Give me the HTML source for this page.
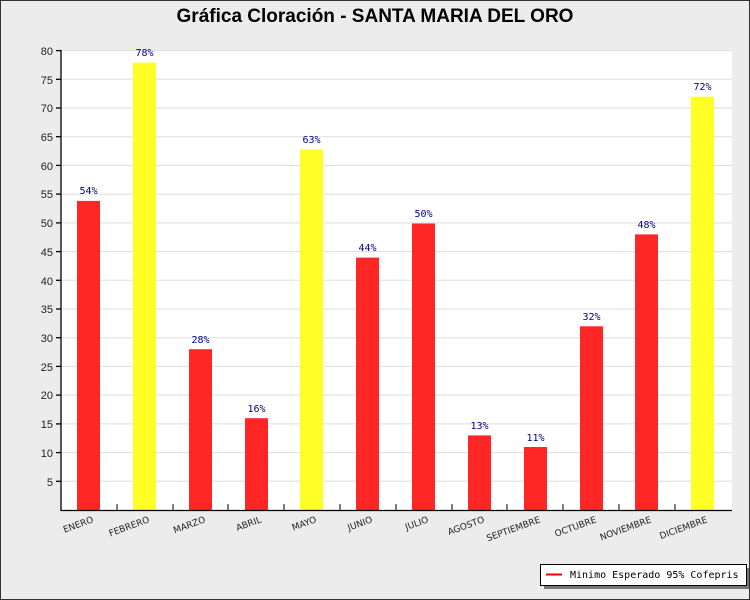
<!DOCTYPE html>
<html><head><meta charset="utf-8"><style>
body{margin:0;width:750px;height:600px;overflow:hidden;background:#ececec}
svg{display:block}
</style></head><body>
<svg width="750" height="600" xmlns="http://www.w3.org/2000/svg" font-family="Liberation Sans, DejaVu Sans, sans-serif">
<rect x="0.5" y="0.5" width="749" height="599" fill="#ececec" stroke="#333"/>
<text x="375" y="22" text-anchor="middle" font-size="19" font-weight="bold" fill="#000">Gráfica Cloración - SANTA MARIA DEL ORO</text>
<rect x="61" y="50" width="671" height="460" fill="#fff"/>
<g stroke="#ddd" stroke-width="1">
<line x1="61" x2="732" y1="481.3" y2="481.3"/><line x1="61" x2="732" y1="452.6" y2="452.6"/><line x1="61" x2="732" y1="423.9" y2="423.9"/><line x1="61" x2="732" y1="395.1" y2="395.1"/><line x1="61" x2="732" y1="366.4" y2="366.4"/><line x1="61" x2="732" y1="337.7" y2="337.7"/><line x1="61" x2="732" y1="309" y2="309"/><line x1="61" x2="732" y1="280.3" y2="280.3"/><line x1="61" x2="732" y1="251.6" y2="251.6"/><line x1="61" x2="732" y1="222.9" y2="222.9"/><line x1="61" x2="732" y1="194.1" y2="194.1"/><line x1="61" x2="732" y1="165.4" y2="165.4"/><line x1="61" x2="732" y1="136.7" y2="136.7"/><line x1="61" x2="732" y1="108" y2="108"/><line x1="61" x2="732" y1="79.3" y2="79.3"/><line x1="61" x2="732" y1="50.6" y2="50.6"/>
</g>
<g fill="#ff2626">
<rect x="77" y="200.9" width="23" height="309.1"/>
<rect x="189" y="349.2" width="23" height="160.8"/>
<rect x="245" y="418.2" width="23" height="91.8"/>
<rect x="356" y="257.6" width="23" height="252.4"/>
<rect x="412" y="223.5" width="23" height="286.5"/>
<rect x="468" y="435.4" width="23" height="74.6"/>
<rect x="524" y="447" width="23" height="63"/>
<rect x="580" y="326.3" width="23" height="183.7"/>
<rect x="635" y="234.4" width="23" height="275.6"/>
</g>
<g fill="#ffff26">
<rect x="133" y="62.6" width="23" height="447.4"/>
<rect x="300" y="149.4" width="23" height="360.6"/>
<rect x="691" y="96.7" width="23" height="413.3"/>
</g>
<g font-family="DejaVu Sans Mono, Liberation Mono, monospace" font-size="10" fill="#00008b" text-anchor="middle">
<text x="88.5" y="194">54%</text><text x="144.5" y="56">78%</text><text x="200.5" y="343">28%</text><text x="256.5" y="412">16%</text><text x="311.5" y="143">63%</text><text x="367.5" y="251">44%</text><text x="423.5" y="217">50%</text><text x="479.5" y="429">13%</text><text x="535.5" y="441">11%</text><text x="591.5" y="320">32%</text><text x="646.5" y="228">48%</text><text x="702.5" y="90">72%</text>
</g>
<g stroke="#000" stroke-width="1.3">
<line x1="61" y1="50" x2="61" y2="511"/><line x1="61" y1="510.5" x2="732" y2="510.5"/>
<line x1="56" x2="61" y1="481.3" y2="481.3"/><line x1="56" x2="61" y1="452.6" y2="452.6"/><line x1="56" x2="61" y1="423.9" y2="423.9"/><line x1="56" x2="61" y1="395.1" y2="395.1"/><line x1="56" x2="61" y1="366.4" y2="366.4"/><line x1="56" x2="61" y1="337.7" y2="337.7"/><line x1="56" x2="61" y1="309" y2="309"/><line x1="56" x2="61" y1="280.3" y2="280.3"/><line x1="56" x2="61" y1="251.6" y2="251.6"/><line x1="56" x2="61" y1="222.9" y2="222.9"/><line x1="56" x2="61" y1="194.1" y2="194.1"/><line x1="56" x2="61" y1="165.4" y2="165.4"/><line x1="56" x2="61" y1="136.7" y2="136.7"/><line x1="56" x2="61" y1="108" y2="108"/><line x1="56" x2="61" y1="79.3" y2="79.3"/><line x1="56" x2="61" y1="50.6" y2="50.6"/>
</g>
<g stroke="#000" stroke-width="1">
<line x1="117" x2="117" y1="504" y2="510"/><line x1="173" x2="173" y1="504" y2="510"/><line x1="228" x2="228" y1="504" y2="510"/><line x1="284" x2="284" y1="504" y2="510"/><line x1="340" x2="340" y1="504" y2="510"/><line x1="396" x2="396" y1="504" y2="510"/><line x1="452" x2="452" y1="504" y2="510"/><line x1="507" x2="507" y1="504" y2="510"/><line x1="563" x2="563" y1="504" y2="510"/><line x1="619" x2="619" y1="504" y2="510"/><line x1="675" x2="675" y1="504" y2="510"/>
</g>
<g font-size="11" fill="#222" text-anchor="end">
<text x="53" y="486">5</text><text x="53" y="457">10</text><text x="53" y="428">15</text><text x="53" y="399">20</text><text x="53" y="371">25</text><text x="53" y="342">30</text><text x="53" y="313">35</text><text x="53" y="285">40</text><text x="53" y="256">45</text><text x="53" y="227">50</text><text x="53" y="198">55</text><text x="53" y="170">60</text><text x="53" y="141">65</text><text x="53" y="112">70</text><text x="53" y="84">75</text><text x="53" y="55">80</text>
</g>
<g font-family="DejaVu Sans, sans-serif" font-size="9" fill="#222" text-anchor="end">
<text transform="translate(94,522) rotate(-20)">ENERO</text>
<text transform="translate(150,522) rotate(-20)">FEBRERO</text>
<text transform="translate(206,522) rotate(-20)">MARZO</text>
<text transform="translate(262,522) rotate(-20)">ABRIL</text>
<text transform="translate(317,522) rotate(-20)">MAYO</text>
<text transform="translate(373,522) rotate(-20)">JUNIO</text>
<text transform="translate(429,522) rotate(-20)">JULIO</text>
<text transform="translate(485,522) rotate(-20)">AGOSTO</text>
<text transform="translate(541,522) rotate(-20)">SEPTIEMBRE</text>
<text transform="translate(597,522) rotate(-20)">OCTUBRE</text>
<text transform="translate(652,522) rotate(-20)">NOVIEMBRE</text>
<text transform="translate(708,522) rotate(-20)">DICIEMBRE</text>
</g>
<rect x="544" y="568" width="205" height="21" fill="#777"/>
<rect x="540.5" y="564.5" width="206" height="21" fill="#fff" stroke="#000"/>
<line x1="546" x2="562" y1="574.5" y2="574.5" stroke="#f00" stroke-width="2"/>
<text x="570" y="578" font-family="DejaVu Sans Mono, Liberation Mono, monospace" font-size="10" fill="#000">Minimo Esperado 95% Cofepris</text>
</svg>
</body></html>
